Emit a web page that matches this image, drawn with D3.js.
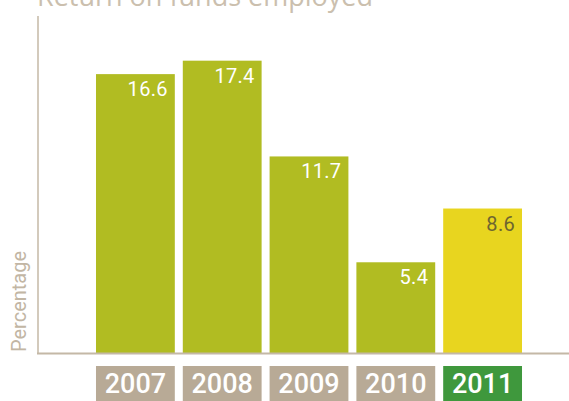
<!DOCTYPE html>
<html>
<head>
<meta charset="utf-8">
<script src="https://cdn.jsdelivr.net/npm/d3@7"></script>
<style>
  body { margin: 0; background: #fff; }
  svg { display: block; }
</style>
</head>
<body>
<div id="chart"></div>
<script>
const years = ["2007", "2008", "2009", "2010", "2011"];
const values = [16.6, 17.4, 11.7, 5.4, 8.6];
const yDomain = [0, 20];

const W = 569, H = 401;
const margin = { top: 17, left: 38, bottom: 48 };
const baseY = H - margin.bottom;

const svg = d3.select("#chart").append("svg")
    .attr("width", W)
    .attr("height", H);

// band scale for the five years
const x = d3.scaleBand()
    .domain(years)
    .range([92, 526])
    .paddingInner(0.092)
    .paddingOuter(0.046);

const y = d3.scaleLinear()
    .domain(yDomain)
    .range([baseY, margin.top]);

// title, mostly cut off at the top
svg.append("text")
    .attr("x", 37)
    .attr("y", 6)
    .attr("font-family", "Open Sans")
    .attr("font-size", 27)
    .attr("fill", "#cbbfae")
    .text("Return on funds employed");

// bars
svg.selectAll("rect.bar")
    .data(values)
    .enter().append("rect")
    .attr("class", "bar")
    .attr("x", (d, i) => x(years[i]))
    .attr("y", d => y(d))
    .attr("width", x.bandwidth())
    .attr("height", d => baseY - y(d))
    .attr("fill", (d, i) => i === years.length - 1 ? "#e8d51f" : "#b1bc22");

// value labels inside the bars
svg.selectAll("text.val")
    .data(values)
    .enter().append("text")
    .attr("class", "val")
    .attr("x", (d, i) => x(years[i]) + x.bandwidth() - 7)
    .attr("y", d => y(d) + 22)
    .attr("text-anchor", "end")
    .attr("font-family", "Roboto")
    .attr("font-size", 20)
    .attr("letter-spacing", 0.3)
    .attr("fill", (d, i) => i === years.length - 1 ? "#6e6530" : "#ffffff")
    .text(d => d.toFixed(1));

// axes lines
svg.append("line")
    .attr("x1", margin.left).attr("x2", margin.left)
    .attr("y1", y(yDomain[1]) - 1).attr("y2", baseY)
    .attr("stroke", "#c4b8a6")
    .attr("stroke-width", 1.5);

svg.append("line")
    .attr("x1", margin.left - 1).attr("x2", W)
    .attr("y1", baseY + 0.5).attr("y2", baseY + 0.5)
    .attr("stroke", "#c4b8a6")
    .attr("stroke-width", 2);

// y label
svg.append("text")
    .attr("transform", "translate(26," + (baseY - 1) + ") rotate(-90)")
    .attr("font-family", "Roboto")
    .attr("font-size", 20)
    .attr("fill", "#c2b6a4")
    .text("Percentage");

// year boxes
const boxes = svg.selectAll("g.year")
    .data(years)
    .enter().append("g")
    .attr("class", "year")
    .attr("transform", d => "translate(" + x(d) + ",366)");

boxes.append("rect")
    .attr("width", x.bandwidth())
    .attr("height", 36)
    .attr("fill", (d, i) => i === years.length - 1 ? "#3f983d" : "#b8aa96");

boxes.append("text")
    .attr("x", x.bandwidth() / 2)
    .attr("y", 27)
    .attr("text-anchor", "middle")
    .attr("font-family", "Roboto")
    .attr("font-weight", 500)
    .attr("font-size", 27)
    .attr("fill", "#ffffff")
    .text(d => d);
</script>
</body>
</html>
